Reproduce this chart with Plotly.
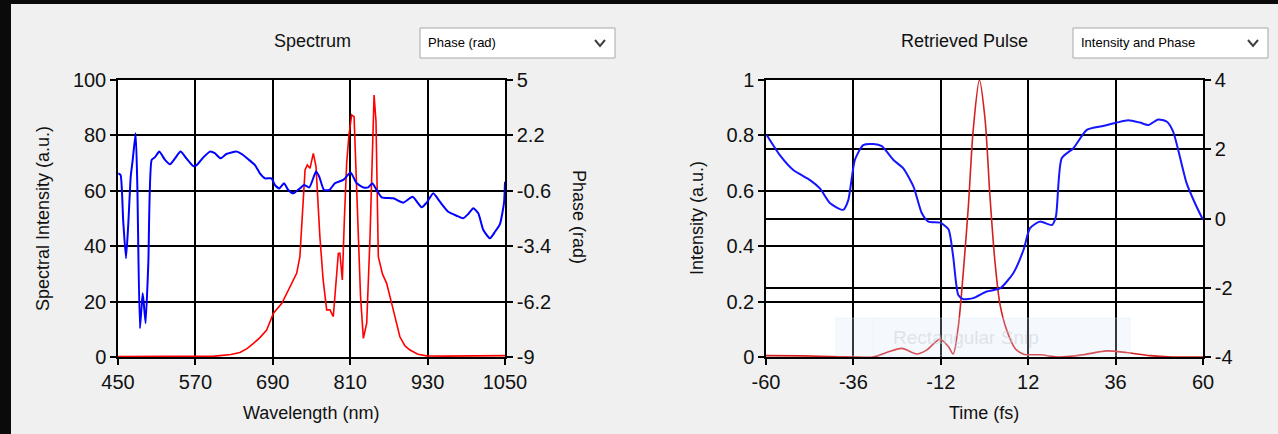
import plotly.graph_objects as go

W, H = 1278, 434

# ---------------- data: Spectrum (left) ----------------
spec_wl = [450, 500, 560, 600, 608, 625, 639, 650, 660, 670, 680.5, 691, 704, 717, 727, 732, 736, 740,
           743.5, 747.7, 752.8, 757, 763, 768, 773.5, 778.6, 783.8, 788, 791.6, 794, 797.8, 801, 804.5,
           808, 812.3, 816, 819, 822.6, 826, 830.4, 835.6, 840.7, 844, 847, 850, 853.6, 860, 866.5,
           876.8, 887, 895, 902.7, 915, 928.5, 960, 1000, 1050]
spec_int = [0.2, 0.2, 0.2, 0.3, 0.5, 0.9, 1.6, 3.0, 4.9, 7.0, 9.7, 15.8, 19.4, 25.4, 30.2, 36.2, 50, 67.5,
            69.3, 68.1, 73.5, 68.7, 43.4, 28, 17, 17, 14.6, 26, 37.4, 37.5, 27.8, 50, 69.9,
            80, 87.4, 86.8, 65, 43.4, 22, 6.7, 12.2, 43, 75, 94.6, 85, 36.2, 30, 26.6,
            17, 7.3, 4.0, 2.5, 1.0, 0.4, 0.3, 0.4, 0.5]

phase_wl = [450.5, 454, 458, 462.4, 466, 469.7, 472.8, 477.4, 480, 484, 488.2, 490, 492.8, 497, 502.2,
            507.4, 514, 522.9, 530.6, 538.4, 547, 556, 566.7, 572, 582.3, 592.6, 600, 609, 618, 634,
            644, 652, 662.4, 670, 678, 688, 693.4, 700, 707.4, 714, 721.8, 732, 738.4, 746.6, 757,
            762, 769.4, 777.6, 786.3, 799.3, 810.6, 820, 830.4, 838, 844.3, 851, 858.8, 876.8, 892.3,
            906.8, 920.7, 928.5, 938.8, 949, 962, 975, 985.3, 993, 1000.9, 1008.6, 1016.4, 1026.7,
            1034.5, 1042.2, 1048.5, 1050]
phase_val = [0.28, 0.2, -2.08, -4.01, -2.24, 0.11, 0.96, 2.31, -0.39, -7.55, -5.78, -6.3, -7.3, -4.26, 0.96,
             1.1, 1.38, 0.96, 0.74, 1.04, 1.38, 1.04, 0.65, 0.7, 1.09, 1.38, 1.3, 1.04, 1.26, 1.38,
             1.21, 0.99, 0.7, 0.28, 0.03, 0.03, -0.31, -0.48, -0.22, -0.56, -0.73, -0.48, -0.31, -0.43, 0.37,
             0.11, -0.56, -0.56, -0.22, -0.05, 0.32, -0.22, -0.43, -0.43, -0.22, -0.56, -0.93, -0.98, -1.2,
             -0.9, -1.43, -1.2, -0.73, -1.15, -1.66, -1.86, -1.99, -1.77, -1.48, -1.74, -2.58, -3.0,
             -2.67, -2.28, -1.2, -0.14]

spec_xticks = [450, 570, 690, 810, 930, 1050]
spec_yticks = [0, 20, 40, 60, 80, 100]
spec_phase_ticks = [-9, -6.2, -3.4, -0.6, 2.2, 5]
spec_phase_text = ["-9", "-6.2", "-3.4", "-0.6", "2.2", "5"]

# ---------------- data: Retrieved pulse (right) ----------------
pulse_t = [-60, -50, -39.7, -36, -30.5, -26.9, -22.7, -18.6, -15.9, -12.2, -9.9, -8.6, -7.2, -5.8, -4.4,
           -3.1, -1.4, 0.14, 1.5, 2.9, 4.25, 6.1, 8.4, 10.7, 15.2, 20.7, 27.1, 33.6, 39, 45.4, 51.5, 60]
pulse_int = [0.005, 0.004, 0.001, 0.0, 0.0, 0.016, 0.031, 0.011, 0.025, 0.064, 0.037, 0.011, 0.11, 0.31, 0.55,
             0.82, 1.0, 0.86, 0.58, 0.34, 0.19, 0.097, 0.031, 0.01, 0.008, 0.0, 0.008, 0.022, 0.016, 0.005, 0.0, 0.0]

pphase_t = [-59.8, -56.2, -52.5, -47.9, -45.2, -42.4, -38.8, -37.4, -35.6, -33.3, -30.5, -28.2, -25, -22.3,
            -19.5, -17.2, -15.4, -12.2, -9.9, -8.6, -7.2, -5.8, -3.1, 0.6, 4.25, 7.9, 10.7, 12.5, 15.2,
            18.5, 19.6, 21.2, 24.4, 28.1, 32.6, 36.3, 39.5, 42.7, 45, 47.7, 50, 51.8, 55.5, 57.8, 60]
pphase_val = [2.41, 1.83, 1.4, 1.11, 0.87, 0.44, 0.25, 0.53, 1.69, 2.12, 2.15, 2.09, 1.69, 1.45,
              0.92, 0.15, -0.09, -0.12, -0.31, -1.1, -2.21, -2.33, -2.3, -2.11, -2.02, -1.58, -0.91, -0.28, -0.09,
              -0.19, 0.05, 1.74, 2.03, 2.56, 2.67, 2.77, 2.84, 2.77, 2.7, 2.86, 2.8, 2.51, 1.02, 0.44, -0.04]

pulse_xticks = [-60, -36, -12, 12, 36, 60]
pulse_xtext = ["-60", "-36", "-12", "12", "36", "60"]
pulse_yticks = [0, 0.2, 0.4, 0.6, 0.8, 1]
pulse_ytext = ["0", "0.2", "0.4", "0.6", "0.8", "1"]
pulse_phase_ticks = [-4, -2, 0, 2, 4]
pulse_phase_text = ["-4", "-2", "0", "2", "4"]

# ---------------- helpers ----------------
def px(x):
    return x / W

def py(y):
    return 1 - y / H

FONT = "Liberation Sans, Arial, sans-serif"
TICKFONT = dict(family=FONT, size=20, color="#111111")

fig = go.Figure()
fig.add_trace(go.Scatter(x=spec_wl, y=spec_int, mode="lines", line=dict(color="#ff0000", width=1.6),
                         xaxis="x", yaxis="y", showlegend=False))
fig.add_trace(go.Scatter(x=phase_wl, y=phase_val, mode="lines", line=dict(color="#0000ff", width=2, shape="spline", smoothing=0.5),
                         xaxis="x", yaxis="y2", showlegend=False))
fig.add_trace(go.Scatter(x=pulse_t, y=pulse_int, mode="lines", line=dict(color="#d42020", width=1.6, shape="spline", smoothing=0.8),
                         xaxis="x3", yaxis="y3", showlegend=False))
fig.add_trace(go.Scatter(x=pphase_t, y=pphase_val, mode="lines", line=dict(color="#1515ff", width=2, shape="spline", smoothing=0.6),
                         xaxis="x3", yaxis="y4", showlegend=False))

ax_common = dict(showgrid=True, gridcolor="black", gridwidth=1.5, showline=True, linecolor="black",
                 linewidth=1.5, ticks="outside", ticklen=6, tickwidth=1.5, tickcolor="black",
                 tickfont=TICKFONT, zeroline=False, fixedrange=True, automargin=False)

left_dom = [px(118), px(505)]
right_dom = [px(766), px(1203)]
ydom = [py(357), py(80)]

fig.update_layout(
    width=W, height=H,
    margin=dict(l=0, r=0, t=0, b=0, pad=0, autoexpand=False),
    paper_bgcolor="#f0f0f0", plot_bgcolor="white",
    xaxis=dict(ax_common, domain=left_dom, range=[450, 1050], tickvals=spec_xticks, anchor="y", mirror=True),
    yaxis=dict(ax_common, domain=ydom, range=[0, 100], tickvals=spec_yticks, anchor="x", mirror=True),
    yaxis2=dict(ax_common, overlaying="y", side="right", range=[-9, 5], tickvals=spec_phase_ticks,
                ticktext=spec_phase_text, anchor="x", showgrid=False),
    xaxis3=dict(ax_common, domain=right_dom, range=[-60, 60], tickvals=pulse_xticks, ticktext=pulse_xtext,
                anchor="y3", mirror=True),
    yaxis3=dict(ax_common, domain=ydom, range=[0, 1], tickvals=pulse_yticks, ticktext=pulse_ytext,
                anchor="x3", mirror=True),
    yaxis4=dict(ax_common, overlaying="y3", side="right", range=[-4, 4], tickvals=pulse_phase_ticks,
                ticktext=pulse_phase_text, anchor="x3", showgrid=True),
)

shapes = []
# black frame at top and left
shapes.append(dict(type="rect", xref="paper", yref="paper", x0=0, x1=1, y0=py(4), y1=1,
                   fillcolor="#0a0a0a", line=dict(width=0), layer="below"))
shapes.append(dict(type="rect", xref="paper", yref="paper", x0=0, x1=px(11), y0=0, y1=1,
                   fillcolor="#0a0a0a", line=dict(width=0), layer="below"))

annotations = []
def dropdown(x0, x1, label):
    shapes.append(dict(type="rect", xref="paper", yref="paper", x0=px(x0), x1=px(x1), y0=py(58), y1=py(28),
                       fillcolor="white", line=dict(color="#a8a8a8", width=1)))
    cx = x1 - 15
    shapes.append(dict(type="path", xref="paper", yref="paper",
                       path=f"M {px(cx-5)} {py(40)} L {px(cx)} {py(46)} L {px(cx+5)} {py(40)}",
                       line=dict(color="#404040", width=2)))
    annotations.append(dict(x=px(x0 + 6), y=py(43), xref="paper", yref="paper", text=label, showarrow=False,
                            xanchor="left", yanchor="middle", font=dict(family=FONT, size=13, color="black")))

dropdown(420, 615, "Phase (rad)")
dropdown(1073, 1268, "Intensity and Phase")

# faint snipping-tool ghost
shapes.append(dict(type="rect", xref="paper", yref="paper", x0=px(836), x1=px(1130), y0=py(356), y1=py(318),
                   fillcolor="rgba(215,232,250,0.25)", line=dict(color="rgba(215,232,250,0.35)", width=1)))
shapes.append(dict(type="line", xref="paper", yref="paper", x0=px(873), x1=px(873), y0=py(356), y1=py(318),
                   line=dict(color="rgba(215,232,250,0.35)", width=1)))
annotations.append(dict(x=px(966), y=py(337), xref="paper", yref="paper", text="Rectangular Snip", showarrow=False,
                        xanchor="center", yanchor="middle",
                        font=dict(family=FONT, size=19, color="rgba(200,205,212,0.5)")))

def title(x, y, text, size=18, angle=0):
    annotations.append(dict(x=px(x), y=py(y), xref="paper", yref="paper", text=text, showarrow=False,
                            textangle=angle, xanchor="center", yanchor="middle",
                            font=dict(family=FONT, size=size, color="#111111")))

title(312, 41, "Spectrum", 18)
title(964, 41, "Retrieved Pulse", 18)
title(311, 413, "Wavelength (nm)", 18)
title(984, 413, "Time (fs)", 18)
title(43, 219, "Spectral Intensity (a.u.)", 18, -90)
title(579, 217, "Phase (rad)", 18, 90)
title(697, 218, "Intensity (a.u.)", 18, -90)

fig.update_layout(shapes=shapes, annotations=annotations)
fig.write_html("out.html")
